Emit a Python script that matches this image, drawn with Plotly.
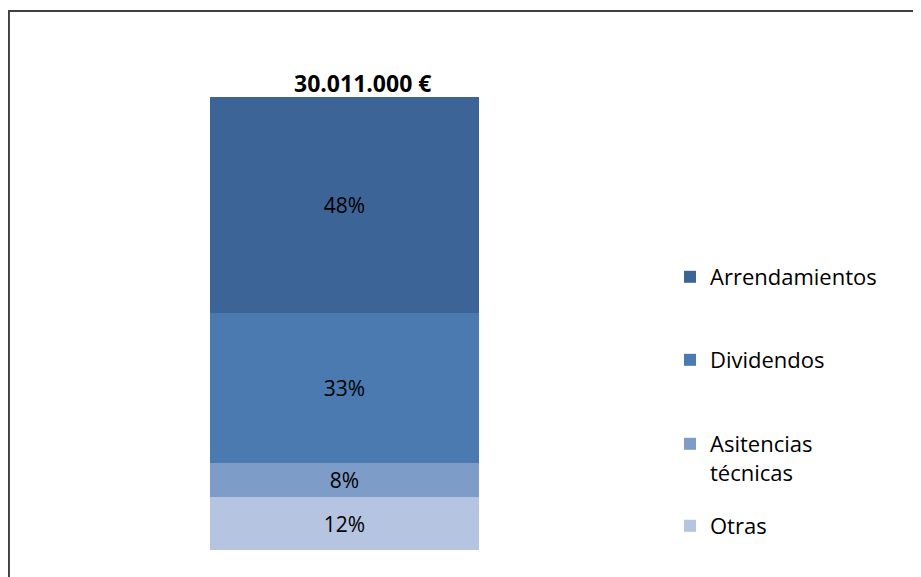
import plotly.graph_objects as go

categorias = ["Otras", "Asitencias<br>técnicas", "Dividendos", "Arrendamientos"]
porcentajes = [11.6, 7.5, 33.2, 47.7]
etiquetas = ["12%", "8%", "33%", "48%"]
colores = ["#B5C4E0", "#7E9CC8", "#4A7AB0", "#3D6496"]
total_texto = "30.011.000 €"

W, H = 921, 577
fuente = "Open Sans"
# altura (px, desde arriba) de cada entrada de la leyenda
leyenda_top = [497, 415, 331, 248]
nombres_leyenda = ["legend", "legend2", "legend3", "legend4"]

fig = go.Figure()
for i in range(len(categorias)):
    fig.add_trace(go.Bar(
        x=[0], y=[porcentajes[i]], name=categorias[i],
        marker=dict(color=colores[i], line=dict(width=0)),
        text=[etiquetas[i]], textposition="inside", insidetextanchor="middle",
        textfont=dict(family=fuente, size=21, color="black"),
        width=1, legend=nombres_leyenda[i], showlegend=True, hoverinfo="skip",
    ))

fig.add_annotation(x=0, y=sum(porcentajes), text="<b>" + total_texto + "</b>",
                   showarrow=False, yanchor="bottom", xshift=18, yshift=-4,
                   font=dict(family=fuente, size=23, color="black"))

# marco del grafico (la pagina tiene 8px de margen)
fig.add_shape(type="rect", xref="paper", yref="paper",
              x0=0.001, x1=1.05, y0=-0.05, y1=1 - 3 / H,
              line=dict(color="#404040", width=2))

fig.update_layout(
    width=W, height=H, barmode="stack", showlegend=True,
    margin=dict(l=0, r=0, t=0, b=0),
    paper_bgcolor="white", plot_bgcolor="white",
    font=dict(family=fuente, size=21, color="black"),
    xaxis=dict(domain=[202 / W, 471 / W], range=[-0.5, 0.5], visible=False),
    yaxis=dict(domain=[1 - 542 / H, 1 - 89 / H], range=[0, sum(porcentajes)], visible=False),
)
for i in range(len(categorias)):
    fig.update_layout({nombres_leyenda[i]: dict(
        x=662 / W, y=1 - leyenda_top[i] / H, xanchor="left", yanchor="top",
        valign="top", font=dict(family=fuente, size=22), itemclick=False,
        bgcolor="rgba(0,0,0,0)")})

fig.write_html("out.html")
